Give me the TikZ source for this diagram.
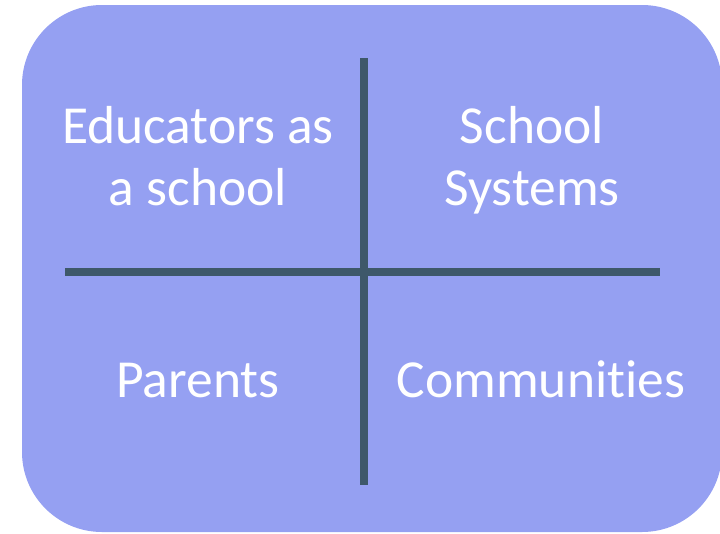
\documentclass[tikz,border=0pt]{standalone}
\usepackage{fontspec}
\setmainfont[Ligatures=NoCommon]{Carlito}
\definecolor{panelfill}{RGB}{149,160,242}
\definecolor{divider}{RGB}{62,88,106}
\begin{document}
\begin{tikzpicture}[x=1pt,y=-1pt,
  label/.style={text=white, align=center, inner sep=0pt, anchor=base,
    font=\fontsize{53.5}{62}\selectfont},
  rule/.style={draw=divider, line width=8pt}]
\useasboundingbox (0,0) rectangle (720,533);
% rounded panel
\fill[panelfill, rounded corners=80pt] (22,5) rectangle (722,532);
% dividing cross
\coordinate (vtop) at (364,58);
\coordinate (vbot) at (364,485);
\coordinate (hleft) at (65,272);
\coordinate (hright) at (660,272);
\draw[rule] (vtop) -- (vbot);
\draw[rule] (hleft) -- (hright);
% quadrant labels (anchored at the baseline of the last line)
\node[label] (edu) at (198,205) {Educators as\\a school};
\node[label] (sys) at (532,205) {School\\Systems};
\node[label] (par) at (198,397) {Parents};
\node[label] (com) at (541,397) {Communities};
\end{tikzpicture}
\end{document}
